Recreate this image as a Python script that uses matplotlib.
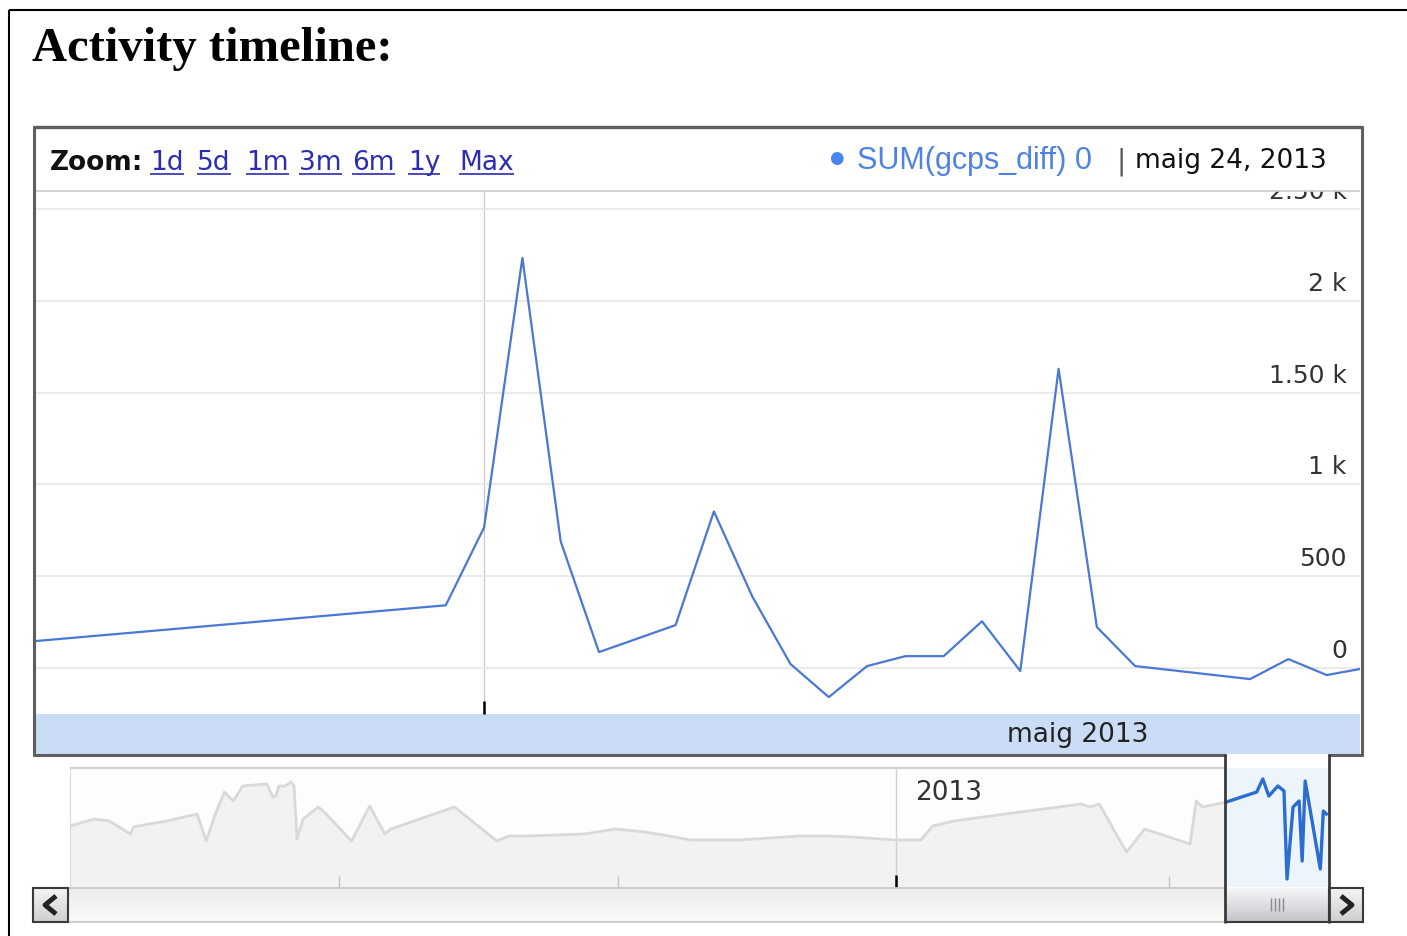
"""
Activity timeline - annotated timeline screenshot recreated with matplotlib
"""
import matplotlib
matplotlib.use('Agg')

import matplotlib.pyplot as plt
from matplotlib.patches import Rectangle
from matplotlib.lines import Line2D
from matplotlib.colors import to_rgb
from matplotlib.transforms import offset_copy
import numpy as np
import pandas as pd

# ---- data: main (zoomed) series ----
main_dates = ['2013-04-09', '2013-04-30', '2013-05-01', '2013-05-02', '2013-05-03',
              '2013-05-04', '2013-05-06', '2013-05-07', '2013-05-08', '2013-05-09',
              '2013-05-10', '2013-05-11', '2013-05-12', '2013-05-13', '2013-05-14',
              '2013-05-15', '2013-05-16', '2013-05-17', '2013-05-18', '2013-05-21',
              '2013-05-22', '2013-05-23', '2013-05-24']
main_values = [-40, 342, 766, 2234, 690, 87, 234, 853, 391, 22, -158, 11, 65, 65,
               255, -16, 1630, 223, 11, -60, 49, -38, 0]
series_name = 'SUM(gcps_diff)'
y_ticks = [0, 500, 1000, 1500, 2000, 2500]
y_tick_labels = ['0', '500', '1 k', '1.50 k', '2 k', '2.50 k']
zoom_links = ['1d', '5d', '1m', '3m', '6m', '1y', 'Max']
months_ca = ['gener', 'febrer', 'març', 'abril', 'maig', 'juny', 'juliol',
             'agost', 'setembre', 'octubre', 'novembre', 'desembre']

# ---- data: overview strip (days from 2013-01-01, relative level) ----
overview_base = '2013-01-01'
overview_days = [-273, -265, -260, -253, -252, -247, -241, -231, -228, -225,
                 -222, -219, -216, -208, -206, -205, -204, -202, -200, -199,
                 -198, -196, -191, -189, -180, -174, -169, -167, -146, -132,
                 -128, -122, -103, -93, -83, -75, -68, -52, -32, -22,
                 -15, 0, 8, 12, 19, 31, 61, 64, 67, 72,
                 76, 82, 97, 99, 101, 109,
                 119, 121, 123, 126, 128, 129, 131, 133, 134, 135, 140, 141, 142]
overview_levels = [61, 68, 66, 53, 60, 63, 66, 73, 46, 73,
                   95, 86, 101, 103, 90, 91, 101, 101, 105, 101,
                   48, 68, 80, 75, 46, 81, 53, 58, 80, 46,
                   51, 51, 53, 58, 55, 51, 47, 47, 51, 51,
                   50, 47, 47, 61, 66, 71, 83, 80, 83, 56,
                   35, 58, 43, 86, 80, 85,
                   95, 108, 91, 101, 96, 8, 80, 86, 26, 106, 18, 76, 73]
overview_quarters = ['2012-07-01', '2012-10-01', '2013-01-01', '2013-04-01']
year_label = '2013'

COLORS = {
    "frame": "#5e5e5e",
    "grid": "#e6e6e6",
    "vgrid": "#c8c8c8",
    "line": "#4a78d4",
    "legend": "#4684ee",
    "legend_text": "#4f82e3",
    "link": "#2b2bb5",
    "text": "#222222",
    "band": "#cadcf6",
    "ov_line": "#d9d9d9",
    "ov_fill": "#f2f2f2",
    "ov_sel": "#eef4fc",
    "ov_blue": "#2c6dd2",
}

W, H = 1407, 937
fig = plt.figure(figsize=(W / 100, H / 100), dpi=100, facecolor='white')


def fbox(x0, y0, x1, y1):
    """pixel box (top-left origin) -> figure fraction rect"""
    return [x0 / W, 1 - y1 / H, (x1 - x0) / W, (y1 - y0) / H]


def pixel_axes(z):
    a = fig.add_axes([0, 0, 1, 1], zorder=z)
    a.set_xlim(0, W)
    a.set_ylim(H, 0)
    a.axis('off')
    return a


def seg(a, xs, ys, color, lw, z=4):
    a.add_line(Line2D(xs, ys, color=color, lw=lw, solid_capstyle='butt', zorder=z))


def vgrad(a, x0, y0, x1, y1, top, bottom, z=1):
    t = np.linspace(0, 1, 32)[:, None, None]
    img = np.array(to_rgb(top)) * (1 - t) + np.array(to_rgb(bottom)) * t
    a.imshow(img, extent=(x0, x1, y1, y0), origin='upper', aspect='auto',
             interpolation='bilinear', zorder=z)


bg = pixel_axes(0)
fg = pixel_axes(5)

# ---- main chart ----
dates = pd.to_datetime(main_dates)
may1 = pd.Timestamp('2013-05-01')
view_start = may1 - pd.Timedelta(days=11.7)
view_end = may1 + pd.Timedelta(days=22.87)

ax = fig.add_axes(fbox(36, 192, 1360, 715), zorder=2)
ax.plot(dates, main_values, color=COLORS["line"], lw=1.6)
ax.set_xlim(view_start, view_end)
ax.set_ylim(-250, 2598)
ax.set_yticks(y_ticks)
ax.set_xticks([may1])
ax.tick_params(axis='y', length=0, labelleft=False)
ax.tick_params(axis='x', direction='in', length=9.5, width=1.8, color='black',
               labelbottom=False)
ax.grid(axis='y', color=COLORS["grid"], lw=1.2)
ax.grid(axis='x', color=COLORS["vgrid"], lw=0.9)
ax.set_axisbelow(True)
for s in ax.spines.values():
    s.set_visible(False)

# y labels sit inside, right-aligned, just above each gridline
lab_tr = offset_copy(ax.get_yaxis_transform(), fig=fig, x=0, y=8, units='points')
for v, lab in zip(y_ticks, y_tick_labels):
    ax.text(0.99, v, lab, transform=lab_tr, ha='right', va='baseline',
            fontsize=18, color='#333333', clip_on=True)

# month band
bg.add_patch(Rectangle((36, 715), 1324, 40, color=COLORS["band"], lw=0))
ax.text(may1 + pd.Timedelta(days=15.5), -0.0516, f"{months_ca[may1.month - 1]} {may1.year}",
        transform=ax.get_xaxis_transform(), ha='center', va='baseline',
        fontsize=19, color=COLORS["text"], clip_on=False)

# ---- overview strip ----
ov_dates = pd.Timestamp(overview_base) + pd.to_timedelta(overview_days, unit='D')
levels = np.array(overview_levels)
i0 = int(np.argmax(ov_dates >= view_start))

ov = fig.add_axes(fbox(70, 769, 1329, 888), zorder=2)
ov.set_facecolor('#fdfdfd')
ov.axvspan(view_start, view_end, color=COLORS["ov_sel"], lw=0, zorder=0.5)
ov.fill_between(ov_dates[:i0 + 1], 0, levels[:i0 + 1], color=COLORS["ov_fill"], lw=0, zorder=1)
ov.plot(ov_dates[:i0 + 1], levels[:i0 + 1], color=COLORS["ov_line"], lw=2, zorder=2)
ov.plot(ov_dates[i0:], levels[i0:], color=COLORS["ov_blue"], lw=2.4, zorder=3)
ov.set_xlim(pd.Timestamp(overview_base) - pd.Timedelta(days=273), view_end)
ov.set_ylim(0, 119)
year_tick = pd.Timestamp(overview_base)
ov.set_xticks([year_tick])
ov.set_xticks(pd.to_datetime(overview_quarters), minor=True)
ov.tick_params(which='major', axis='x', direction='in', length=9, width=1.8,
               color='black', labelbottom=False)
ov.tick_params(which='minor', axis='x', direction='in', length=8, width=1,
               color='#c4c4c4', labelbottom=False)
ov.set_yticks([])
ov.grid(which='major', axis='x', color='#d0d0d0', lw=1)
for k, s in ov.spines.items():
    s.set_visible(k == 'left')
ov.spines['left'].set_color('#dadada')
ov.text(year_tick + pd.Timedelta(days=6), 0.74, year_label,
        transform=ov.get_xaxis_transform(), ha='left', va='baseline',
        fontsize=19, color='#333333')

# ---- frames ----
seg(fg, [9, 9], [11, H], 'black', 1.5)
seg(fg, [9, W], [11, 11], 'black', 1.5)
seg(fg, [33, 1363], [128, 128], COLORS["frame"], 2.4)
seg(fg, [34, 34], [127, 757], COLORS["frame"], 2.2)
seg(fg, [1362, 1362], [127, 757], COLORS["frame"], 2.2)
seg(fg, [33, 1226], [756, 756], COLORS["frame"], 2.2)
seg(fg, [1328, 1363], [756, 756], COLORS["frame"], 2.2)
seg(fg, [36, 1360], [192, 192], '#cccccc', 1.2)
seg(fg, [70, 1225], [769, 769], '#d2d2d2', 1.5)

# ---- scrollbar ----
vgrad(fg, 68, 889, 1225, 923, '#ececec', '#fafafa')
seg(fg, [68, 1225], [889, 889], '#c4c4c4', 1.2)
seg(fg, [68, 1225], [923, 923], '#c4c4c4', 1.2)
for x0, x1 in [(33, 68), (1329, 1363)]:
    vgrad(fg, x0, 889, x1, 923, '#f4f4f4', '#cfcfcf')
    fg.add_patch(Rectangle((x0, 889), x1 - x0, 34, fill=False, ec='#3a3a3a', lw=1.5, zorder=4))
seg(fg, [56, 45, 56], [897, 906, 915], '#222222', 3.5)
seg(fg, [1341, 1352, 1341], [897, 906, 915], '#222222', 3.5)
vgrad(fg, 1225, 889, 1329, 923, '#f6f6f8', '#c4c4cc')
seg(fg, [1225, 1329], [923, 923], '#3a3a3a', 1.5)
for gx in [1271, 1275, 1279, 1283]:
    seg(fg, [gx, gx], [899, 912], '#8a8a8a', 1)
seg(fg, [1225, 1225], [755, 924], '#3a3a3a', 2)
seg(fg, [1329, 1329], [755, 924], '#3a3a3a', 2)

# ---- header ----
fg.text(32, 61, 'Activity timeline:', family='Liberation Serif', weight='bold',
        fontsize=35, va='baseline', color='black')
fg.text(50, 170, 'Zoom:', weight='bold', fontsize=19, va='baseline', color='#111111')
link_x = [150, 197, 246, 299, 352, 408, 459]
link_texts = [fg.text(x, 170, s, fontsize=19, va='baseline', color=COLORS["link"])
              for x, s in zip(link_x, zoom_links)]

last = dates[-1]
fg.text(836, 158, '●', fontsize=12, ha='center', va='center', color=COLORS["legend"])
fg.text(857, 169, f"{series_name} {main_values[-1]}", family='Liberation Sans',
        fontsize=22, va='baseline', color=COLORS["legend_text"])
fg.text(1116, 169, '|', fontsize=20, va='baseline', color='#555555')
fg.text(1135, 168, f"{months_ca[last.month - 1]} {last.day}, {last.year}",
        fontsize=19, va='baseline', color='#111111')

fg.set_xlim(0, W)
fg.set_ylim(H, 0)

# underline the zoom links
fig.canvas.draw()
r = fig.canvas.get_renderer()
inv = fg.transData.inverted()
for t in link_texts:
    bb = t.get_window_extent(r)
    xa = inv.transform((bb.x0, bb.y0))[0]
    xb = inv.transform((bb.x1, bb.y0))[0]
    seg(fg, [xa, xb], [174.5, 174.5], COLORS["link"], 1.2)

fig.savefig('out.png', dpi=100, facecolor='white')
